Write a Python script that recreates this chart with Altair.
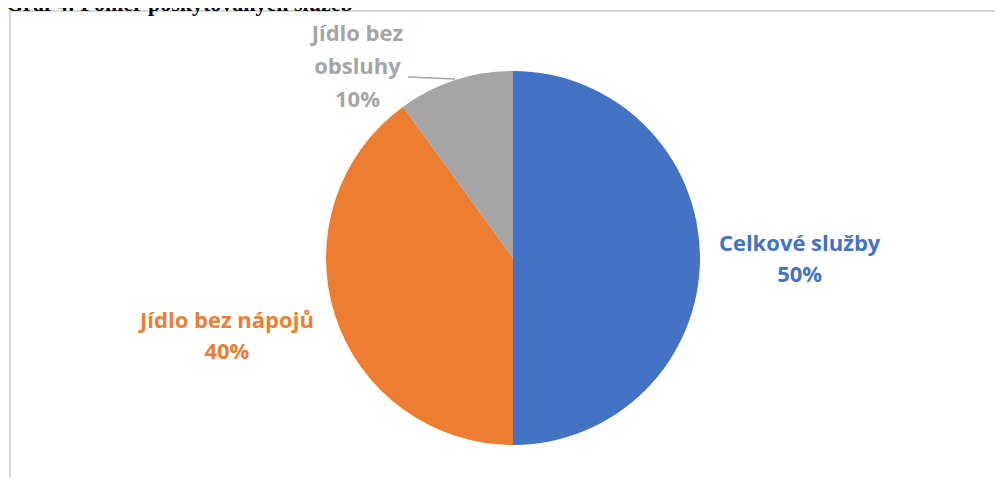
import altair as alt
import pandas as pd

categories = ["Celkové služby", "Jídlo bez nápojů", "Jídlo bez obsluhy"]
shares = [50, 40, 10]
label_texts = ["Celkové služby\n50%", "Jídlo bez nápojů\n40%", "Jídlo bez\nobsluhy\n10%"]
colors = ["#4472C4", "#ED7D31", "#A5A5A5"]
title_text = "Graf 4: Poměr poskytovaných služeb"

df = pd.DataFrame({
    "idx": list(range(len(categories))),
    "category": categories,
    "share": shares,
    "label": label_texts,
})

CX, CY = 505, 250
color_scale = alt.Scale(domain=categories, range=colors)

base = alt.Chart(df).encode(
    theta=alt.Theta("share:Q", stack=True),
    order=alt.Order("idx:Q", sort="ascending"),
    color=alt.Color("category:N", scale=color_scale, legend=None),
    x=alt.value(CX),
    y=alt.value(CY),
)

border = alt.Chart(pd.DataFrame({"a": [0]})).mark_rect(
    fill="white", stroke="#D9D9D9", strokeWidth=2
).encode(x=alt.value(2), x2=alt.value(1200), y=alt.value(3), y2=alt.value(900))

shadow = alt.Chart(pd.DataFrame({"a": [1]})).mark_arc(
    radius=189, color="#000000", opacity=0.06
).encode(theta=alt.Theta("a:Q"), x=alt.value(CX), y=alt.value(CY + 4))

pie = base.mark_arc(radius=187)


def label_layer(i, radius, theta_offset, line_height):
    return base.transform_calculate(
        txt=f"datum.idx == {i} ? datum.label : ''"
    ).mark_text(
        radius=radius, thetaOffset=theta_offset, font="Open Sans", fontSize=22,
        fontWeight="bold", lineBreak="\n", lineHeight=line_height,
        align="center", baseline="middle",
    ).encode(text="txt:N")


labels = [
    label_layer(0, 287, -0.050, 31),
    label_layer(1, 293, 0.096, 31),
    label_layer(2, 273, -0.292, 33),
]

leader = alt.Chart(pd.DataFrame({"a": [0]})).mark_rule(
    color="#A5A5A5", strokeWidth=1.3
).encode(x=alt.value(400), x2=alt.value(447), y=alt.value(69), y2=alt.value(71))

title = alt.Chart(pd.DataFrame({"t": [title_text]})).mark_text(
    font="Liberation Serif", fontSize=22, fontWeight="bold", color="black",
    align="left", baseline="alphabetic",
).encode(text="t:N", x=alt.value(-2), y=alt.value(3))

chart = alt.layer(border, shadow, pie, leader, *labels, title).properties(
    width=987, height=470,
    autosize=alt.AutoSizeParams(type="none"),
    padding=0,
).configure_view(stroke=None)

chart.save("out.html", embed_options={"renderer": "svg", "actions": False})
